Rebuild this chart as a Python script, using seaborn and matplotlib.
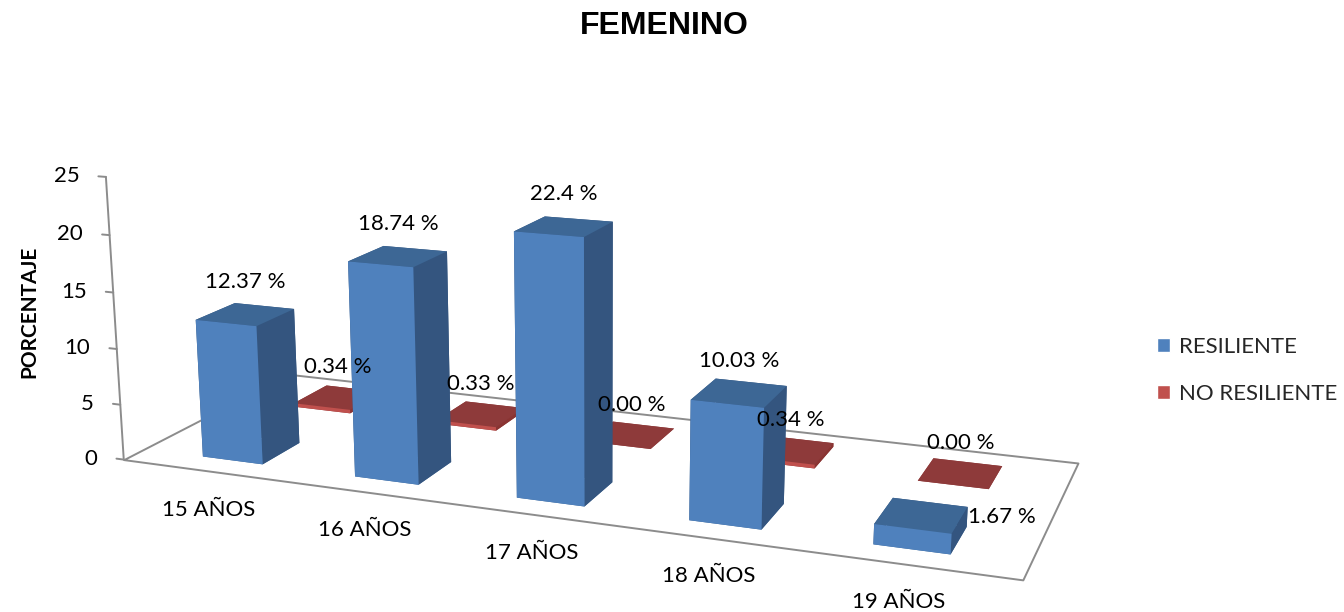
import numpy as np
import pandas as pd
import seaborn as sns
import matplotlib
matplotlib.use("Agg")
import matplotlib.pyplot as plt
from matplotlib.patches import Patch
from mpl_toolkits.mplot3d import proj3d
from mpl_toolkits.mplot3d.art3d import Poly3DCollection

# Data
edades = ["15 AÑOS", "16 AÑOS", "17 AÑOS", "18 AÑOS", "19 AÑOS"]
resiliente = [12.37, 18.74, 22.4, 10.03, 1.67]
no_resiliente = [0.34, 0.33, 0.00, 0.34, 0.00]
etiquetas_res = ["12.37 %", "18.74 %", "22.4 %", "10.03 %", "1.67 %"]
etiquetas_no = ["0.34 %", "0.33 %", "0.00 %", "0.34 %", "0.00 %"]
series = ["RESILIENTE", "NO RESILIENTE"]
ticks_y = [0, 5, 10, 15, 20, 25]

sns.set_theme(style="white")
plt.rcParams["font.family"] = ["Lato", "DejaVu Sans"]
FS = 16

df = pd.DataFrame({
    "edad": edades * 2,
    "serie": [series[0]] * 5 + [series[1]] * 5,
    "valor": resiliente + no_resiliente,
})

pal = sns.color_palette(["#4F81BD", "#C0504D"])
shades = {
    series[0]: {"front": "#4F81BD", "side": "#34557F", "top": "#3D6795"},
    series[1]: {"front": "#C0504D", "side": "#8A3432", "top": "#8E3A3A"},
}

fig = plt.figure(figsize=(13.44, 6.12), dpi=100)
ax = fig.add_axes([-0.06, -0.04, 1.0, 1.0], projection="3d")
ax.set_proj_type("persp", focal_length=0.6)
ax.view_init(elev=14.5, azim=-69)
ax.set_box_aspect((5.2, 1.93, 1.67), zoom=1.61)
ax.computed_zorder = False
ax.set_axis_off()

x0, x1 = -0.6, 4.6
y0, y1 = -0.4, 1.4
zmax = ticks_y[-1]

# bars: back row (NO RESILIENTE) first, then front row
w = 0.4
depth = {series[0]: 0.0, series[1]: 1.0}
for s, z in [(series[1], 3), (series[0], 4)]:
    sub = df[df["serie"] == s]
    pos = np.array([edades.index(e) for e in sub["edad"]], dtype=float)
    c = shades[s]
    # face order used by bar3d: -z, +z, -y, +y, -x, +x
    face = [c["top"], c["top"], c["front"], c["side"], c["side"], c["side"]]
    bars = ax.bar3d(pos - w / 2, np.full(len(pos), depth[s] - w / 2), np.zeros(len(pos)),
                    w, w, sub["valor"].to_numpy(), color=face * len(pos),
                    shade=False, zorder=z, edgecolor="none")
    bars.set_clip_on(False)

ax.set_xlim(x0, x1)
ax.set_ylim(y0, y1)
ax.set_zlim(0, zmax)
ax.autoscale(False)

# floor
floor = Poly3DCollection([[(x0, y0, 0), (x1, y0, 0), (x1, y1, 0), (x0, y1, 0)]],
                         facecolor="white", edgecolor="#8C8C8C", linewidth=1.4, zorder=1)
ax.add_collection3d(floor, autolim=False)
floor.set_clip_on(False)

# vertical value axis at the front-left corner
ax.plot([x0, x0], [y0, y0], [0, zmax], color="#8C8C8C", lw=1.4, zorder=2, clip_on=False)
for t in ticks_y:
    ax.plot([x0 - 0.05, x0], [y0, y0], [t, t], color="#8C8C8C", lw=1.4, zorder=2, clip_on=False)

fig.canvas.draw()
M = ax.get_proj()


def put(x, y, z, s, dx=0, dy=0, **kw):
    px, py, _ = proj3d.proj_transform(x, y, z, M)
    ax.annotate(s, (px, py), xycoords="data", xytext=(dx, dy), textcoords="offset pixels",
                fontsize=FS, color="black", zorder=6, annotation_clip=False, **kw)


for t in ticks_y:
    put(x0 - 0.05, y0, t, str(t), dx=-19, ha="right", va="center")

for i, (v, lab) in enumerate(zip(resiliente, etiquetas_res)):
    if v < 5:
        put(i + w / 2, w / 2, v / 2, lab, dx=1, ha="left", va="center")
    else:
        put(i, 0, v, lab, dy=22, ha="center", va="bottom")
for i, (v, lab) in enumerate(zip(no_resiliente, etiquetas_no)):
    put(i, 1.0, v, lab, dy=20, ha="center", va="bottom")

for i, lab in enumerate(edades):
    put(i, y0, 0, lab, dx=-4, dy=-38, ha="center", va="center")

fig.text(0.494, 0.958, "FEMENINO", ha="center", va="center", fontsize=23,
         fontweight="bold", family="Liberation Sans", color="black")
fig.text(0.022, 0.49, "PORCENTAJE", rotation=90, ha="center", va="center",
         fontsize=15, fontweight="bold", color="black")

handles = [Patch(facecolor=pal[0], label=series[0]), Patch(facecolor=pal[1], label=series[1])]
fig.legend(handles=handles, loc="center left", bbox_to_anchor=(0.846, 0.395), frameon=False,
           fontsize=FS, handlelength=0.6, handleheight=0.6, labelspacing=1.2, handletextpad=0.4)

fig.savefig("out.png", dpi=100)
